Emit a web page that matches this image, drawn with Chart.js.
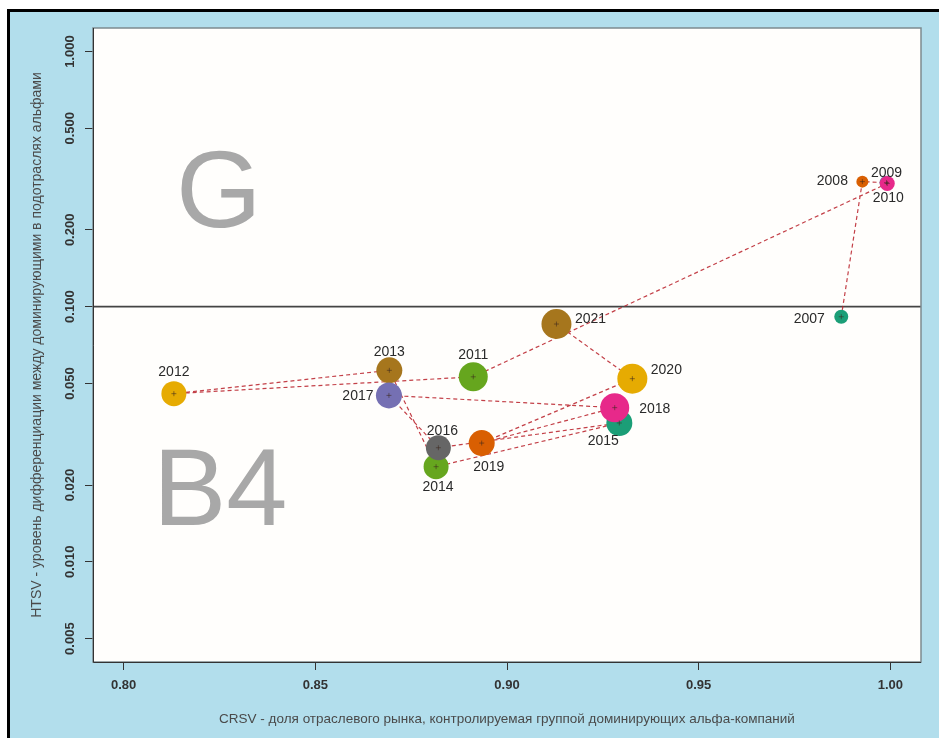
<!DOCTYPE html>
<html>
<head>
<meta charset="utf-8">
<script src="https://cdn.jsdelivr.net/npm/chart.js@4"></script>
<style>
  html, body { margin: 0; padding: 0; background: #fff; }
  canvas { display: block; }
</style>
</head>
<body>
<canvas id="chart" width="939" height="738"></canvas>
<script>
// Values
const years = ['2007', '2008', '2009', '2010', '2011', '2012', '2013', '2014', '2015', '2016', '2017', '2018', '2019', '2020', '2021'];
const crsv = [0.9872, 0.9927, 0.9990, 0.9992, 0.8912, 0.8131, 0.8693, 0.8815, 0.9293, 0.8821, 0.8692, 0.9281, 0.8934, 0.9327, 0.9129];
const htsv = [0.0913, 0.309, 0.306, 0.304, 0.0531, 0.0456, 0.0563, 0.0236, 0.0350, 0.0280, 0.0449, 0.0402, 0.0292, 0.0522, 0.0855];
const xTicks = [0.80, 0.85, 0.90, 0.95, 1.00];
const yTicks = [0.005, 0.010, 0.020, 0.050, 0.100, 0.200, 0.500, 1.000];
const threshold = 0.1;

// styles
const pointColors = ['#1B9E77', '#D95F02', '#7570B3', '#E7298A', '#66A61E', '#E6AB02', '#A6761D', '#66A61E',
                     '#1B9E77', '#666666', '#7570B3', '#E7298A', '#D95F02', '#E6AB02', '#A6761D'];
const pointSizes = [7, 6, 7, 7.5, 14.5, 12.5, 13, 12.5, 13, 12.5, 13, 14.5, 13, 15, 15];
// label offset from point centre: [dx, dy]
const labelOffsets = [[-32, 2], [-30, 0], [0, -10], [1, 15], [0, -22], [0, -22], [0, -18], [2, 20],
                      [-16, 18], [4, -17], [-31, 1], [40, 1], [7, 24], [34, -9], [34, -5]];

const FONT = "'Liberation Sans', Arial, sans-serif";
const points = years.map((y, i) => ({ x: crsv[i], y: htsv[i] }));

const backdrop = {
    id: 'backdrop',
    beforeDraw(chart) {
        const c = chart.ctx, a = chart.chartArea;
        c.save();
        c.fillStyle = '#ffffff';
        c.fillRect(0, 0, chart.width, chart.height);
        c.fillStyle = '#B2DEEC';
        c.fillRect(7, 9, chart.width - 7, chart.height - 9);
        c.strokeStyle = '#000';
        c.lineWidth = 3;
        c.beginPath();
        c.moveTo(8.5, chart.height);
        c.lineTo(8.5, 10.5);
        c.lineTo(chart.width, 10.5);
        c.stroke();
        c.fillStyle = '#FFFEFC';
        c.fillRect(a.left, a.top, a.right - a.left, a.bottom - a.top);
        c.restore();
    },
    beforeDatasetsDraw(chart) {
        const c = chart.ctx, a = chart.chartArea;
        const xs = chart.scales.x, ys = chart.scales.y;
        c.save();
        // big zone letters
        c.fillStyle = '#A8A8A8';
        c.font = '110px ' + FONT;
        c.textAlign = 'center';
        c.textBaseline = 'alphabetic';
        c.fillText('G', xs.getPixelForValue(0.8248), ys.getPixelForValue(0.206));
        c.fillText('B4', xs.getPixelForValue(0.8252), ys.getPixelForValue(0.0140));
        // threshold line
        const yy = ys.getPixelForValue(threshold);
        c.strokeStyle = '#444';
        c.lineWidth = 1.6;
        c.beginPath();
        c.moveTo(a.left, yy);
        c.lineTo(a.right, yy);
        c.stroke();
        c.restore();
    },
    afterDatasetsDraw(chart) {
        const c = chart.ctx;
        const meta = chart.getDatasetMeta(1);
        c.save();
        c.fillStyle = '#2a2a2a';
        c.font = '14px ' + FONT;
        c.textAlign = 'center';
        c.textBaseline = 'middle';
        meta.data.forEach((pt, i) => {
            c.fillText(years[i], pt.x + labelOffsets[i][0], pt.y + labelOffsets[i][1]);
        });
        c.restore();
    },
    afterDraw(chart) {
        const c = chart.ctx, a = chart.chartArea, ys = chart.scales.y;
        c.save();
        c.strokeStyle = '#7d8a8e';
        c.lineWidth = 1.5;
        c.strokeRect(a.left, a.top, a.right - a.left, a.bottom - a.top);
        c.strokeStyle = '#333';
        c.lineWidth = 1;
        c.beginPath();
        c.moveTo(a.left + 0.5, a.top);
        c.lineTo(a.left + 0.5, a.bottom + 0.5);
        c.lineTo(a.right, a.bottom + 0.5);
        c.stroke();
        // rotated y tick labels
        c.fillStyle = '#333';
        c.font = 'bold 13px ' + FONT;
        c.textAlign = 'center';
        c.textBaseline = 'middle';
        yTicks.forEach(v => {
            c.save();
            c.translate(70, ys.getPixelForValue(v));
            c.rotate(-Math.PI / 2);
            c.fillText(v.toFixed(3), 0, 0);
            c.restore();
        });
        c.restore();
    }
};

new Chart(document.getElementById('chart'), {
    type: 'scatter',
    data: {
        datasets: [
            {
                data: points, showLine: true, pointRadius: 0, fill: false,
                borderColor: 'rgba(185,30,40,0.85)', borderWidth: 1.2, borderDash: [4, 3], order: 3
            },
            {
                data: points, pointRadius: pointSizes, pointBackgroundColor: pointColors,
                pointBorderWidth: 0, showLine: false, order: 2
            },
            {
                data: points, pointStyle: 'cross', pointRadius: 2.5, showLine: false,
                pointBorderColor: 'rgba(60,40,30,0.55)', pointBorderWidth: 1, order: 1
            }
        ]
    },
    options: {
        responsive: false,
        animation: false,
        layout: { padding: { top: 28, right: 18, left: 0, bottom: 0 } },
        plugins: { legend: { display: false }, tooltip: { enabled: false } },
        scales: {
            x: {
                type: 'linear', min: 0.792, max: 1.008,
                afterBuildTicks: s => { s.ticks = xTicks.map(v => ({ value: v })); },
                afterFit: s => { s.height = 76; },
                ticks: { autoSkip: false, maxRotation: 0, padding: 8, color: '#333',
                         font: { family: FONT, size: 13, weight: 'bold' }, callback: v => v.toFixed(2) },
                grid: { drawOnChartArea: false, tickLength: 8, tickColor: '#333', tickWidth: 1 },
                border: { display: false },
                title: { display: true, text: 'CRSV - доля отраслевого рынка, контролируемая группой доминирующих альфа-компаний',
                         color: '#4a4a4a', font: { family: FONT, size: 13.5 }, padding: { top: 0, bottom: 11 } }
            },
            y: {
                type: 'logarithmic', min: 0.00405, max: 1.236,
                afterBuildTicks: s => { s.ticks = yTicks.map(v => ({ value: v })); },
                afterFit: s => { s.width = 93; },
                ticks: { display: false },
                grid: { drawOnChartArea: false, tickLength: 8, tickColor: '#333', tickWidth: 1 },
                border: { display: false },
                title: { display: true, text: 'HTSV - уровень дифференциации между доминирующими в подотраслях альфами',
                         color: '#4a4a4a', font: { family: FONT, size: 14 }, padding: { top: 29, bottom: 0 } }
            }
        }
    },
    plugins: [backdrop]
});
</script>
</body>
</html>
